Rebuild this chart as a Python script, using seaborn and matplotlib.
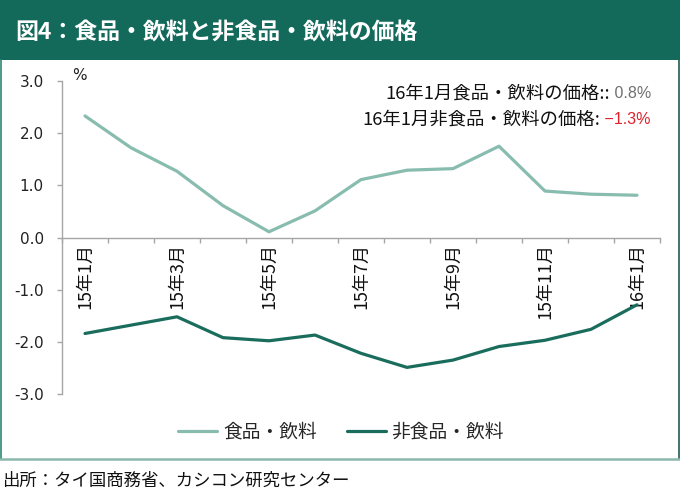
import matplotlib
matplotlib.use("Agg")
import matplotlib.pyplot as plt
from matplotlib.patches import Rectangle
from matplotlib.lines import Line2D
import numpy as np
import pandas as pd
import seaborn as sns

# ---- data ----
months = ["15年1月", "15年2月", "15年3月", "15年4月", "15年5月", "15年6月", "15年7月",
          "15年8月", "15年9月", "15年10月", "15年11月", "15年12月", "16年1月"]
tick_labels = ["15年1月", "", "15年3月", "", "15年5月", "", "15年7月",
               "", "15年9月", "", "15年11月", "", "16年1月"]
food = [2.33, 1.72, 1.27, 0.61, 0.11, 0.51, 1.11, 1.29, 1.32, 1.75, 0.89, 0.83, 0.81]
nonfood = [-1.84, -1.68, -1.52, -1.92, -1.98, -1.87, -2.22, -2.49, -2.35, -2.09, -1.97, -1.76, -1.29]
series_names = ["食品・飲料", "非食品・飲料"]
y_ticks = [3.0, 2.0, 1.0, 0.0, -1.0, -2.0, -3.0]
title = "図4：食品・飲料と非食品・飲料の価格"
note_food = "16年1月食品・飲料の価格::"
note_food_val = " 0.8%"
note_nonfood = "16年1月非食品・飲料の価格:"
note_nonfood_val = " \u22121.3%"
source = "出所：タイ国商務省、カシコン研究センター"

sns.set_style("white")
CJK = ["Noto Sans CJK JP", "DejaVu Sans"]
plt.rcParams["font.family"] = CJK

W, H = 680, 493
fig = plt.figure(figsize=(W / 100, H / 100), dpi=100)

def fx(px):
    return px / W

def fy(py):
    return 1 - py / H

# title bar
fig.patches.append(Rectangle((0, fy(60)), 1, 1 - fy(60), transform=fig.transFigure,
                             facecolor="#136A5B", edgecolor="none", zorder=0))
fig.text(fx(15), fy(32), title, color="white", fontsize=16.5, fontweight="bold",
         va="center", ha="left", family=CJK)

# panel borders
fig.add_artist(Line2D([fx(0.5), fx(0.5)], [fy(60), fy(459)], transform=fig.transFigure,
                      color="#2E8A78", lw=1.2))
fig.add_artist(Line2D([fx(679), fx(679)], [fy(60), fy(459)], transform=fig.transFigure,
                      color="#1E5E52", lw=1.2))
fig.add_artist(Line2D([0, fx(680)], [fy(459), fy(459)], transform=fig.transFigure,
                      color="#8AB8AC", lw=1.8))

# axes
ax = fig.add_axes([fx(62), fy(394), fx(660) - fx(62), fy(81) - fy(394)])
df = pd.DataFrame({
    "x": list(range(len(months))) * 2,
    "value": food + nonfood,
    "series": [series_names[0]] * len(months) + [series_names[1]] * len(months),
})
palette = {series_names[0]: "#88BCAF", series_names[1]: "#1A6D5C"}
sns.lineplot(data=df, x="x", y="value", hue="series", palette=palette, sort=False,
             linewidth=2.3, ax=ax, legend=True)
ax.get_legend().remove()

ax.set_xlim(-0.5, len(months) - 0.5)
ax.set_ylim(-3, 3)
ax.set_xlabel("")
ax.set_ylabel("")
for s in ["top", "right"]:
    ax.spines[s].set_visible(False)
ax.spines["left"].set_color("#A6A6A6")
ax.spines["bottom"].set_color("#A6A6A6")
ax.spines["left"].set_linewidth(1.0)
ax.spines["bottom"].set_linewidth(1.0)
ax.spines["bottom"].set_position(("data", 0))

ax.set_yticks(y_ticks)
ax.set_yticklabels([f"{v:.1f}" for v in y_ticks], family="DejaVu Sans", fontsize=11,
                   color="#222222")
ax.tick_params(axis="y", direction="out", length=3.6, width=1.0, color="#A6A6A6", pad=9.5,
               left=True)

ax.set_xticks(range(len(months)))
ax.set_xticklabels(tick_labels, rotation=90, fontsize=13, family=CJK, color="#111111")
ax.tick_params(axis="x", which="major", length=0, pad=4, bottom=True)
ax.set_xticks(np.arange(-0.5, len(months), 1.0), minor=True)
ax.tick_params(axis="x", which="minor", direction="out", length=3.6, width=1.0,
               color="#A6A6A6", bottom=True)
ax.grid(False)

# % unit
fig.text(fx(72), fy(75), "%", fontsize=11, family="DejaVu Sans", color="#222222",
         ha="left", va="center")

# annotations with coloured values
renderer = fig.canvas.get_renderer()
for py, pre, val, col in [(94, note_food, note_food_val, "#707070"),
                          (120, note_nonfood, note_nonfood_val, "#E0202A")]:
    t = fig.text(fx(651), fy(py), val, fontsize=11.5, family="Liberation Sans", color=col,
                 ha="right", va="center")
    bb = t.get_window_extent(renderer=renderer)
    fig.text(bb.x0 / (W), fy(py), pre, fontsize=13.2, family=CJK, color="#111111",
             ha="right", va="center")

# legend
handles = [Line2D([], [], color=palette[n], lw=2.3) for n in series_names]
fig.legend(handles, series_names, loc="center", bbox_to_anchor=(fx(341), fy(432)),
           ncol=2, frameon=False, handlelength=2.1, handletextpad=0.3,
           columnspacing=1.6, prop={"family": CJK, "size": 13.5})

# source
fig.text(fx(2), fy(481), source, fontsize=12.5, family=CJK, color="#111111",
         ha="left", va="center")

fig.savefig("out.png", dpi=100)
